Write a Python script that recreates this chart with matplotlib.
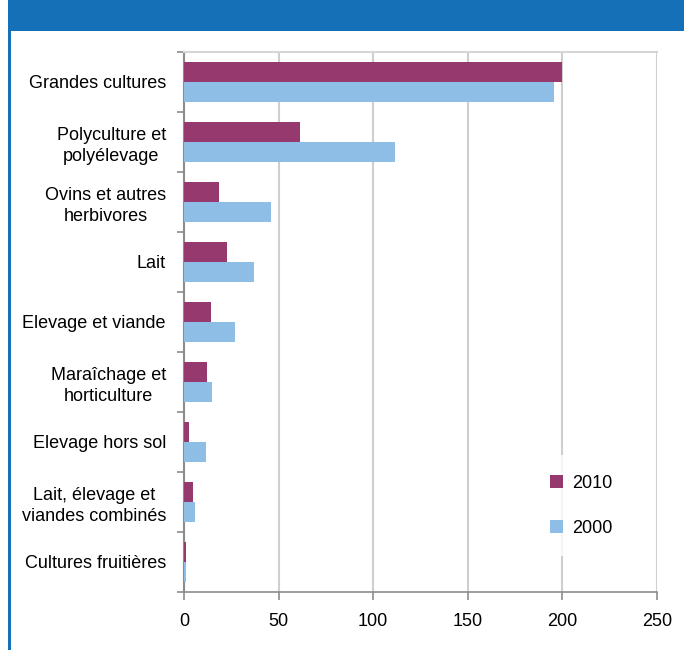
import numpy as np
import matplotlib.pyplot as plt
from matplotlib.patches import Rectangle

plt.rcParams['font.family'] = ['Liberation Sans', 'DejaVu Sans']

categories = ['Grandes cultures', 'Polyculture et\npolyélevage', 'Ovins et autres\nherbivores',
              'Lait', 'Elevage et viande', 'Maraîchage et\nhorticulture', 'Elevage hors sol',
              'Lait, élevage et\nviandes combinés', 'Cultures fruitières']
v2010 = [199.6, 61.5, 18.3, 22.5, 14.5, 12.3, 2.4, 4.6, 1.3]
v2000 = [195.3, 111.3, 45.8, 36.8, 26.8, 14.7, 11.4, 5.8, 1.3]
series_names = ['2010', '2000']
xticks = [0, 50, 100, 150, 200, 250]

c2010 = '#96396F'
c2000 = '#8EBDE6'
blue = '#1570B8'

fig = plt.figure(figsize=(6.84, 6.5), dpi=100)
fig.patch.set_facecolor('white')

# header band and left border
fig.add_artist(Rectangle((8 / 684, 1 - 31 / 650), 1, 31 / 650, transform=fig.transFigure,
                         facecolor=blue, edgecolor='none'))
fig.add_artist(Rectangle((8 / 684, 0), 3 / 684, 1, transform=fig.transFigure,
                         facecolor=blue, edgecolor='none'))

ax = fig.add_axes([184 / 684, 58 / 650, 473 / 684, 540 / 650])
y = np.arange(len(categories))
h = 1 / 3
ax.barh(y - h / 2, v2010, height=h, color=c2010, label=series_names[0], zorder=3)
ax.barh(y + h / 2, v2000, height=h, color=c2000, label=series_names[1], zorder=3)

ax.set_xlim(0, 250)
ax.set_ylim(len(categories) - 0.5, -0.5)
ax.set_xticks(xticks)
ax.set_yticks(y)
ax.set_yticklabels(categories, fontsize=13, ha='right', multialignment='center',
                   linespacing=1.3)
ax.set_yticks(np.arange(len(categories) + 1) - 0.5, minor=True)
ax.tick_params(axis='y', which='major', length=0, pad=13)
ax.tick_params(axis='y', which='minor', length=5, color='#8c8c8c', width=1.2, direction='out')
ax.tick_params(axis='x', length=6, color='#8c8c8c', width=1.2, labelsize=13, pad=9)

ax.grid(axis='x', color='#cfcfcf', linewidth=1.5, zorder=0)
ax.spines['right'].set_visible(False)
ax.spines['top'].set_color('#d6d6d6')
ax.spines['top'].set_linewidth(1.5)
ax.spines['left'].set_color('#8c8c8c')
ax.spines['left'].set_linewidth(1.5)
ax.spines['bottom'].set_color('#8c8c8c')
ax.spines['bottom'].set_linewidth(1.2)

leg = ax.legend(loc='center', bbox_to_anchor=(0.84, 0.16), frameon=True, fontsize=13,
                handlelength=0.7, handleheight=0.7, handletextpad=0.5, labelspacing=1.55,
                borderpad=1.1, fancybox=False)
leg.get_frame().set_facecolor('white')
leg.get_frame().set_edgecolor('none')
leg.set_zorder(5)

fig.savefig('out.png', dpi=100)
